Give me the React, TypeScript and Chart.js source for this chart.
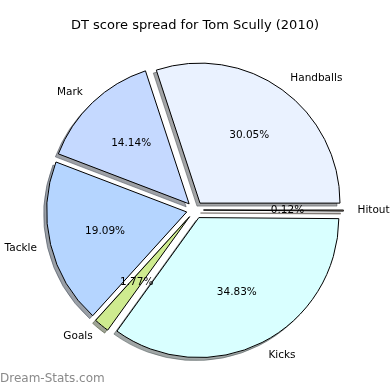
import React, { useEffect, useRef } from "react";
import { Chart, registerables } from "chart.js";

Chart.register(...registerables);

// Data in matplotlib (counter-clockwise from 3 o'clock) order
const categories = ["Handballs", "Mark", "Tackle", "Goals", "Kicks", "Hitout"];
const shares = [30.05, 14.14, 19.09, 1.77, 34.83, 0.12];
const colors = ["#EAF2FF", "#C5D9FF", "#B5D5FF", "#CEEB8F", "#D9FFFF", "#FFE4C4"];
const titleText = "DT score spread for Tom Scully (2010)";
const watermark = "Dream-Stats.com";

const EXPLODE = 8.5;
const SHADOW_DX = -3;
const SHADOW_DY = 3;
const FONT = "'DejaVu Sans', sans-serif";

function shadowOf(hex: string) {
  const r = parseInt(hex.slice(1, 3), 16);
  const g = parseInt(hex.slice(3, 5), 16);
  const b = parseInt(hex.slice(5, 7), 16);
  return `rgba(${Math.round(r * 0.3)},${Math.round(g * 0.3)},${Math.round(b * 0.3)},0.5)`;
}

export default function App() {
  const ref = useRef<HTMLCanvasElement | null>(null);
  useEffect(() => {
    document.body.style.margin = "0";
    if (!ref.current) return;
    // Chart.js draws clockwise; reverse to emulate counter-clockwise order
    const labels = [...categories].reverse();
    const values = [...shares].reverse();
    const bg = [...colors].reverse();
    const total = values.reduce((a, b) => a + b, 0);

    const piePlugin = {
      id: "mplPie",
      beforeDatasetsDraw(chart: any) {
        const ctx = chart.ctx;
        const meta = chart.getDatasetMeta(0);
        const arcs = meta.data;
        // shadows
        arcs.forEach((el: any, i: number) => {
          const mid = (el.startAngle + el.endAngle) / 2;
          const fake = Object.create(el);
          const sc = shadowOf(bg[i]);
          fake.options = { ...el.options, backgroundColor: sc, borderColor: sc };
          ctx.save();
          ctx.translate(Math.cos(mid) * EXPLODE + SHADOW_DX, Math.sin(mid) * EXPLODE + SHADOW_DY);
          el.draw.call(fake, ctx);
          ctx.restore();
        });
        // wedges
        arcs.forEach((el: any) => {
          const mid = (el.startAngle + el.endAngle) / 2;
          ctx.save();
          ctx.translate(Math.cos(mid) * EXPLODE, Math.sin(mid) * EXPLODE);
          el.draw(ctx);
          ctx.restore();
        });
        // labels
        ctx.save();
        ctx.fillStyle = "#000";
        ctx.font = `10.5px ${FONT}`;
        ctx.textBaseline = "middle";
        arcs.forEach((el: any, i: number) => {
          const mid = (el.startAngle + el.endAngle) / 2;
          const cx = el.x + Math.cos(mid) * EXPLODE;
          const cy = el.y + Math.sin(mid) * EXPLODE;
          const r = el.outerRadius;
          const lx = cx + Math.cos(mid) * r * 1.1;
          const ly = cy + Math.sin(mid) * r * 1.1;
          ctx.textAlign = Math.cos(mid) >= 0 ? "left" : "right";
          ctx.fillText(labels[i], lx, ly);
          const px = cx + Math.cos(mid) * r * 0.6;
          const py = cy + Math.sin(mid) * r * 0.6;
          ctx.textAlign = "center";
          ctx.fillText(((values[i] / total) * 100).toFixed(2) + "%", px, py);
        });
        ctx.restore();
        return false;
      },
      afterDraw(chart: any) {
        const ctx = chart.ctx;
        ctx.save();
        ctx.fillStyle = "#000";
        ctx.font = `13px ${FONT}`;
        ctx.textAlign = "center";
        ctx.textBaseline = "middle";
        ctx.fillText(titleText, 195, 26);
        ctx.fillStyle = "#8a8a8a";
        ctx.textAlign = "left";
        ctx.font = `12px ${FONT}`;
        ctx.fillText(watermark, 0, 379);
        ctx.restore();
      },
    };

    const chart = new Chart(ref.current, {
      type: "pie",
      data: {
        labels,
        datasets: [
          {
            data: values,
            backgroundColor: bg,
            borderColor: "#000",
            borderWidth: 1,
          },
        ],
      },
      options: {
        responsive: false,
        animation: false,
        events: [],
        devicePixelRatio: 1,
        rotation: 90,
        radius: 140,
        layout: { padding: { top: 40, bottom: 10, left: 0, right: 0 } },
        plugins: {
          legend: { display: false },
          tooltip: { enabled: false },
          title: { display: false },
        },
      } as any,
      plugins: [piePlugin],
    });
    return () => chart.destroy();
  }, []);
  return (
    <div style={{ width: 390, height: 390, background: "#fff" }}>
      <canvas ref={ref} width={390} height={390} style={{ display: "block" }} />
    </div>
  );
}
